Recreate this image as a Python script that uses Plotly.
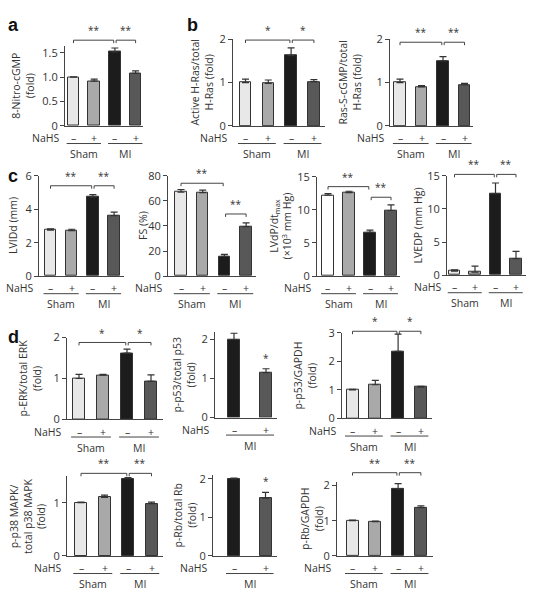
import plotly.graph_objects as go

W, H = 534, 601

# ----------------- data -----------------
treat = ["–", "+", "–", "+"]
treat_mi = ["–", "+"]

nitro_cgmp = [1.00, 0.92, 1.52, 1.08]
nitro_cgmp_err = [0.01, 0.04, 0.08, 0.05]

active_hras = [1.00, 0.98, 1.62, 1.02]
active_hras_err = [0.08, 0.08, 0.18, 0.05]

ras_s_cgmp = [1.00, 0.90, 1.50, 0.95]
ras_s_cgmp_err = [0.08, 0.03, 0.10, 0.03]

lvidd = [2.75, 2.72, 4.72, 3.62]
lvidd_err = [0.07, 0.08, 0.15, 0.20]

fs = [67.0, 66.5, 15.8, 39.5]
fs_err = [2.0, 2.0, 1.5, 3.0]

lvdp = [12.2, 12.6, 6.6, 9.9]
lvdp_err = [0.25, 0.20, 0.35, 0.85]

lvedp = [0.6, 0.45, 12.3, 2.5]
lvedp_err = [0.2, 0.9, 1.6, 1.1]

p_erk = [1.00, 1.08, 1.62, 0.93]
p_erk_err = [0.10, 0.02, 0.10, 0.16]

p_p53_total = [2.00, 1.15]
p_p53_total_err = [0.16, 0.10]

p_p53_gapdh = [1.00, 1.18, 2.35, 1.10]
p_p53_gapdh_err = [0.02, 0.15, 0.60, 0.02]

p_p38 = [1.00, 1.10, 1.45, 0.98]
p_p38_err = [0.01, 0.04, 0.02, 0.03]

p_rb_total = [2.00, 1.50]
p_rb_total_err = [0.02, 0.15]

p_rb_gapdh = [1.00, 0.97, 1.90, 1.37]
p_rb_gapdh_err = [0.02, 0.02, 0.15, 0.05]

# ----------------- style -----------------
FONT = "Open Sans"
TXT = "#333333"
AXC = "#444444"
EDGE = "#333333"
FILL4 = ["#e8e8e8", "#a9a9a9", "#1c1c1c", "#585858"]
FILL4W = ["#ffffff", "#a9a9a9", "#1c1c1c", "#585858"]
FILL2 = ["#1c1c1c", "#585858"]
FS_T = 10.5

G4 = [(0, 1, "Sham"), (2, 3, "MI")]
G2 = [(0, 1, "MI")]

panels = [
    dict(vals=nitro_cgmp, errs=nitro_cgmp_err, title="8-Nitro-cGMP<br>(fold)", tx=23,
         L=65, R=143, c0=73.5, s=20.7, B=121, T=38.5, ymax=1.65,
         ticks=[0, 0.5, 1, 1.5], ticktext=["0", "0.5", "1.0", "1.5"],
         br=[(0, 2, 1.76, "**"), (2, 3, 1.76, "**")], st=[]),
    dict(vals=active_hras, errs=active_hras_err, title="Active H-Ras/total<br>H-Ras (fold)", tx=202,
         L=233, R=325, c0=245.5, s=22.8, B=121, T=32, ymax=2,
         ticks=[0, 1, 2], br=[(0, 2, 1.98, "*"), (2, 3, 1.98, "*")], st=[]),
    dict(vals=ras_s_cgmp, errs=ras_s_cgmp_err, title="Ras-S-cGMP/total<br>H-Ras (fold)", tx=350,
         L=390, R=473, c0=400, s=21.5, B=121, T=32, ymax=2,
         ticks=[0, 1, 2], br=[(0, 2, 1.93, "**"), (2, 3, 1.93, "**")], st=[]),
    dict(vals=lvidd, errs=lvidd_err, title="LVIDd (mm)", tx=13,
         L=39, R=124, c0=50.5, s=21.2, B=275, T=172, ymax=6,
         ticks=[0, 2, 4, 6], br=[(0, 2, 5.4, "**"), (2, 3, 5.4, "**")], st=[]),
    dict(vals=fs, errs=fs_err, title="FS (%)", tx=143,
         L=168, R=256, c0=181, s=21.7, B=275, T=172, ymax=80,
         ticks=[0, 20, 40, 60, 80], br=[(0, 2, 74, "**"), (2, 3, 49.5, "**")], st=[]),
    dict(vals=lvdp, errs=lvdp_err, title="LVdP/dt<sub>max</sub><br>(×10<sup>3</sup> mm Hg)", tx=281,
         L=317, R=400, c0=328, s=21, B=275, T=173, ymax=15, fills=FILL4W,
         ticks=[0, 5, 10, 15], br=[(0, 2, 13.5, "**"), (2, 3, 11.9, "**")], st=[]),
    dict(vals=lvedp, errs=lvedp_err, title="LVEDP (mm Hg)", tx=418,
         L=447, R=526, c0=454.5, s=20.5, B=274, T=172, ymax=15,
         ticks=[0, 5, 10, 15], br=[(0, 2, 15.2, "**"), (2, 3, 15.2, "**")], st=[]),
    dict(vals=p_erk, errs=p_erk_err, title="p-ERK/total ERK<br>(fold)", tx=30,
         L=67, R=163, c0=79, s=24, B=422, T=338, ymax=2, bw=12,
         ticks=[0, 1, 2], br=[(0, 2, 1.88, "*"), (2, 3, 1.88, "*")], st=[]),
    dict(vals=p_p53_total, errs=p_p53_total_err, title="p-p53/total p53<br>(fold)", tx=184,
         L=215, R=277, c0=234, s=32, B=420, T=332, ymax=2.2, bw=12,
         ticks=[0, 1, 2], br=[], st=[(1, 1.3, "*")]),
    dict(vals=p_p53_gapdh, errs=p_p53_gapdh_err, title="p-p53/GAPDH<br>(fold)", tx=305,
         L=342, R=432, c0=352.5, s=22.8, B=421, T=333, ymax=3, bw=12,
         ticks=[0, 1, 2, 3], br=[(0, 2, 3.05, "*"), (2, 3, 3.05, "*")], st=[]),
    dict(vals=p_p38, errs=p_p38_err, title="p-p38 MAPK/<br>total p38 MAPK<br>(fold)", tx=28,
         L=67, R=163, c0=81, s=23.5, B=562, T=480, ymax=1.5, bw=12,
         ticks=[0, 1], br=[(0, 2, 1.55, "**"), (2, 3, 1.55, "**")], st=[]),
    dict(vals=p_rb_total, errs=p_rb_total_err, title="p-Rb/total Rb<br>(fold)", tx=185,
         L=213, R=277, c0=234, s=31.5, B=562, T=479, ymax=2.1, bw=12,
         ticks=[0, 1, 2], br=[], st=[(1, 1.72, "*")]),
    dict(vals=p_rb_gapdh, errs=p_rb_gapdh_err, title="p-Rb/GAPDH<br>(fold)", tx=312,
         L=337, R=433, c0=352.5, s=22.8, B=562, T=486, ymax=2.1, bw=12,
         ticks=[0, 1, 2], br=[(0, 2, 2.36, "**"), (2, 3, 2.36, "**")], st=[]),
]


def fx(px):
    return px / W


def fy(py):
    return 1 - py / H


fig = go.Figure()
shapes, anns = [], []
lay = {}

for k, p in enumerate(panels, start=1):
    sfx = "" if k == 1 else str(k)
    n = len(p["vals"])
    L, R, c0, s, B, T, ymax = p["L"], p["R"], p["c0"], p["s"], p["B"], p["T"], p["ymax"]
    fills = p.get("fills", FILL4 if n == 4 else FILL2)
    bw = p.get("bw", 11.5)

    fig.add_trace(go.Bar(
        x=list(range(n)), y=p["vals"], width=bw / s,
        marker=dict(color=fills, line=dict(color=EDGE, width=1)),
        error_y=dict(type="data", array=p["errs"], arrayminus=[0] * n, symmetric=False,
                     color=EDGE, thickness=1.2, width=3.5),
        xaxis="x" + sfx, yaxis="y" + sfx, showlegend=False, hoverinfo="skip"))

    lay["xaxis" + sfx] = dict(
        domain=[fx(L), fx(R)], range=[(L - c0) / s, (R - c0) / s], anchor="y" + sfx,
        showline=True, linecolor=AXC, linewidth=1, showgrid=False, zeroline=False,
        showticklabels=False, ticks="", fixedrange=True)
    lay["yaxis" + sfx] = dict(
        domain=[fy(B), fy(T)], range=[0, ymax], anchor="x" + sfx,
        showline=True, linecolor=AXC, linewidth=1, showgrid=False, zeroline=False,
        ticks="outside", ticklen=4, tickcolor=AXC, tickwidth=1,
        tickvals=p["ticks"], ticktext=p.get("ticktext", [str(t) for t in p["ticks"]]),
        tickfont=dict(family=FONT, size=11, color=TXT), fixedrange=True)

    def xpx(i, c0=c0, s=s):
        return c0 + i * s

    def ypx(v, B=B, T=T, ymax=ymax):
        return B - v * (B - T) / ymax

    # NaHS row
    anns.append(dict(x=fx(L - 4), y=fy(B + 12.5), xref="paper", yref="paper", text="NaHS",
                     showarrow=False, xanchor="right", yanchor="middle",
                     font=dict(family=FONT, size=FS_T, color=TXT)))
    labels = treat if n == 4 else treat_mi
    for i, t in enumerate(labels):
        anns.append(dict(x=fx(xpx(i)), y=fy(B + 12.5), xref="paper", yref="paper", text=t,
                         showarrow=False, xanchor="center", yanchor="middle",
                         font=dict(family=FONT, size=FS_T, color=TXT)))
    # group lines + labels
    for (i0, i1, g) in (G4 if n == 4 else G2):
        xa = xpx(i0 - 0.33) if n == 4 else xpx(i0) - 8
        xb = xpx(i1 + 0.33) if n == 4 else xpx(i1) + 8
        shapes.append(dict(type="line", xref="paper", yref="paper",
                           x0=fx(xa), x1=fx(xb), y0=fy(B + 18), y1=fy(B + 18),
                           line=dict(color=AXC, width=1)))
        anns.append(dict(x=fx((xa + xb) / 2), y=fy(B + 29), xref="paper", yref="paper", text=g,
                         showarrow=False, xanchor="center", yanchor="middle",
                         font=dict(family=FONT, size=FS_T, color=TXT)))
    # y title
    anns.append(dict(x=fx(p["tx"]), y=fy((B + T) / 2), xref="paper", yref="paper",
                     text=p["title"], textangle=-90, showarrow=False,
                     xanchor="center", yanchor="middle",
                     font=dict(family=FONT, size=FS_T, color=TXT)))
    # significance brackets
    used = {}
    for (i, j, v, t) in p["br"]:
        used[i] = used.get(i, 0) + 1
        used[j] = used.get(j, 0) + 1
    for (i, j, v, t) in p["br"]:
        xa = xpx(i) + (1.2 if used[i] > 1 else 0)
        xb = xpx(j) - (1.2 if used[j] > 1 else 0)
        yv = ypx(v)
        path = "M {a},{d} L {a},{y} L {b},{y} L {b},{d}".format(
            a=fx(xa), b=fx(xb), y=fy(yv), d=fy(yv + 3))
        shapes.append(dict(type="path", xref="paper", yref="paper", path=path,
                           line=dict(color=AXC, width=1)))
        anns.append(dict(x=fx((xa + xb) / 2), y=fy(yv - 1), xref="paper", yref="paper", text=t,
                         showarrow=False, xanchor="center", yanchor="bottom",
                         font=dict(family=FONT, size=10, color=TXT)))
    for (i, v, t) in p["st"]:
        anns.append(dict(x=fx(xpx(i)), y=fy(ypx(v)), xref="paper", yref="paper", text=t,
                         showarrow=False, xanchor="center", yanchor="bottom",
                         font=dict(family=FONT, size=10, color=TXT)))

# panel letters
for (t, x, y) in [("a", 13, 17), ("b", 192, 17), ("c", 13, 172), ("d", 13, 337)]:
    anns.append(dict(x=fx(x), y=fy(y), xref="paper", yref="paper", text="<b>%s</b>" % t,
                     showarrow=False, xanchor="center", yanchor="middle",
                     font=dict(family="Liberation Sans", size=18, color="#111111")))

fig.update_layout(
    width=W, height=H, margin=dict(l=0, r=0, t=0, b=0),
    paper_bgcolor="white", plot_bgcolor="white",
    shapes=shapes, annotations=anns, bargap=0, showlegend=False,
    font=dict(family=FONT, color=TXT), **lay)

fig.write_html("out.html", config={"displayModeBar": False},
               post_script="document.body.style.margin='0px';document.body.style.overflow='hidden';")
